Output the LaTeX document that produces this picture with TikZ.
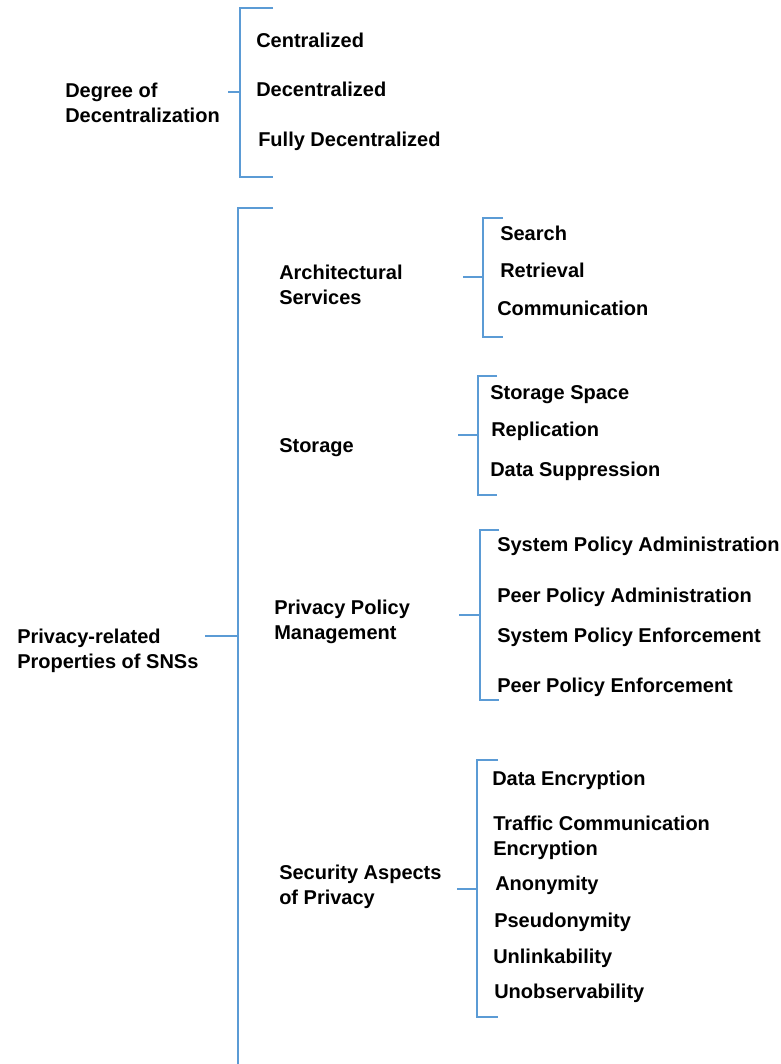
\documentclass[tikz,border=0pt]{standalone}
\usepackage{fontspec}
\setmainfont{Liberation Sans}
\definecolor{bl}{RGB}{91,155,213}
\begin{document}
\begin{tikzpicture}[x=0.75pt,y=-0.75pt,
  lbl/.style={font=\fontsize{15}{18.75}\selectfont\bfseries, anchor=base west, inner sep=0pt, align=left},
  br/.style={draw=bl, line width=0.8pt},
  mainbr/.style={draw=bl, line width=1.1pt}]
\useasboundingbox (0,0) rectangle (781,1064);
% Degree of decentralization
\node[lbl] (deg) at (65,122) {Degree of\\Decentralization};
\node[lbl] (c1) at (256,47) {Centralized};
\node[lbl] (c2) at (256,96) {Decentralized};
\node[lbl] (c3) at (258,146) {Fully Decentralized};
\coordinate (b1t) at (240,8);
\coordinate (b1b) at (240,177);
\coordinate (b1s) at (228,92);
\draw[br] (273,8) -- (b1t) -- (b1b) -- (273,177);
\draw[br] (b1s) -- (240,92);
% main
\node[lbl] (root) at (17,668) {Privacy-related\\Properties of SNSs};
\coordinate (mt) at (238,208);
\coordinate (mb) at (238,1064);
\coordinate (ms) at (205,636);
\draw[mainbr] (273,208) -- (mt) -- (mb);
\draw[mainbr] (ms) -- (238,636);
% Architectural services
\node[lbl] (arch) at (279,304) {Architectural\\Services};
\node[lbl] (a1) at (500,240) {Search};
\node[lbl] (a2) at (500,277) {Retrieval};
\node[lbl] (a3) at (497,315) {Communication};
\draw[br] (503,218) -- (483,218) -- (483,337) -- (503,337);
\draw[br] (463,277) -- (483,277);
% Storage
\node[lbl] (stor) at (279,452) {Storage};
\node[lbl] (s1) at (490,399) {Storage Space};
\node[lbl] (s2) at (491,436) {Replication};
\node[lbl] (s3) at (490,476) {Data Suppression};
\draw[br] (497,376) -- (478,376) -- (478,495) -- (497,495);
\draw[br] (458,435) -- (478,435);
% Privacy policy management
\node[lbl] (ppm) at (274,639) {Privacy Policy\\Management};
\node[lbl] (p1) at (497,551) {System Policy Administration};
\node[lbl] (p2) at (497,602) {Peer Policy Administration};
\node[lbl] (p3) at (497,642) {System Policy Enforcement};
\node[lbl] (p4) at (497,692) {Peer Policy Enforcement};
\draw[br] (499,530) -- (480,530) -- (480,700) -- (499,700);
\draw[br] (459,615) -- (480,615);
% Security aspects
\node[lbl] (sec) at (279,904) {Security Aspects\\of Privacy};
\node[lbl] (e1) at (492,785) {Data Encryption};
\node[lbl] (e2) at (493,855) {Traffic Communication\\Encryption};
\node[lbl] (e3) at (495,890) {Anonymity};
\node[lbl] (e4) at (494,927) {Pseudonymity};
\node[lbl] (e5) at (493,963) {Unlinkability};
\node[lbl] (e6) at (494,998) {Unobservability};
\draw[br] (498,760) -- (477,760) -- (477,1017) -- (498,1017);
\draw[br] (457,889) -- (477,889);
\end{tikzpicture}
\end{document}
